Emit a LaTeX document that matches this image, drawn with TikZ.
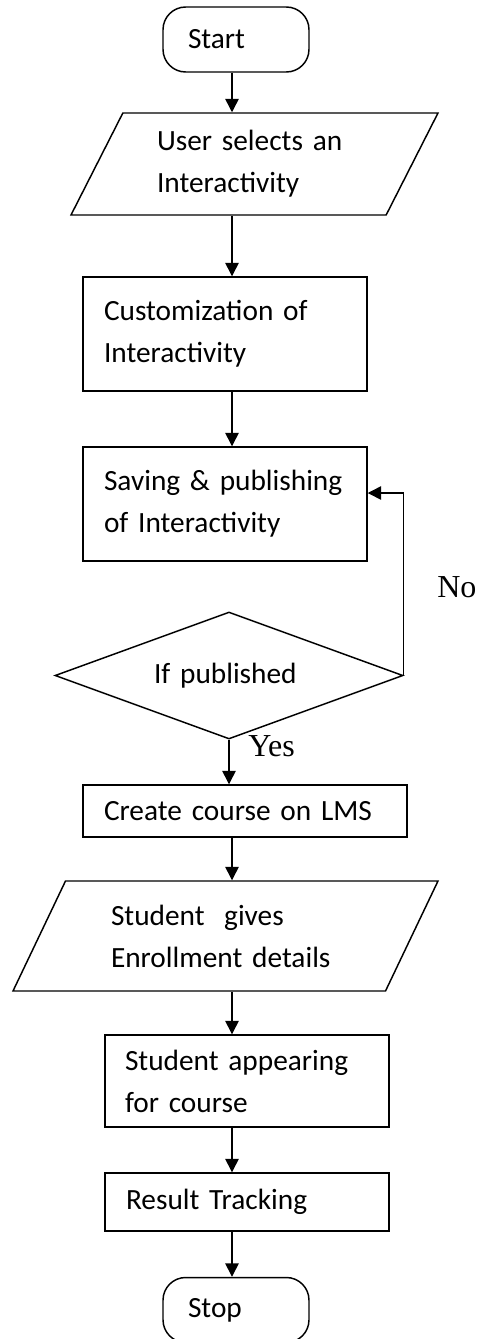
\documentclass[tikz,border=0pt]{standalone}
\usepackage{fontspec}
\setmainfont{Carlito}
\newfontfamily\labelfont{Liberation Serif}
\usetikzlibrary{shapes.geometric, arrows.meta}

\tikzset{
    flowline/.style={line width=1.1pt},
    arr/.style={flowline, -{Triangle[width=10pt, length=10pt]}},
    boxfont/.style={font=\fontsize{22}{31.5}\selectfont},
    terminal/.style={draw, flowline, boxfont, rectangle, rounded corners=17pt, minimum width=109.5pt, minimum height=48.75pt, text width=72pt, inner xsep=18.75pt, align=left},
    process/.style={draw, flowline, boxfont, rectangle, minimum width=213pt, text width=181.5pt, inner xsep=15.75pt, align=left},
    inout/.style={draw, flowline, boxfont, trapezium, trapezium stretches body, inner sep=2pt, align=left},
    decision/.style={draw, flowline, boxfont, diamond, aspect=2.74, inner sep=0pt, minimum width=261pt, minimum height=95.25pt, text width=112.5pt, align=left},
    answer/.style={font=\labelfont\fontsize{24}{28}\selectfont, anchor=base west, inner sep=0pt}
}

\begin{document}
\begin{tikzpicture}[x=0.75pt, y=-0.75pt]
        \useasboundingbox (0,0) rectangle (481,1339);

        % Draw nodes
        \node[terminal] (start) at (236,39.5) {Start};
        \node[inout, trapezium left angle=54.4, trapezium right angle=125.6, minimum width=275.25pt, minimum height=76.5pt, text width=146.25pt] (select) at (254.5,164) {User selects an\\Interactivity};
        \node[process, minimum height=85.5pt] (custom) at (225,334) {Customization of\\Interactivity};
        \node[process, minimum height=85.5pt] (saving) at (225,504) {Saving \& publishing\\of Interactivity};
        \node[decision] (published) at (229,675.5) {If published};
        \node[process, minimum width=243pt, text width=211.5pt, minimum height=39pt] (course) at (245,811) {Create course on LMS};
        \node[inout, trapezium left angle=52.3, trapezium right angle=127.7, minimum width=318.75pt, minimum height=82.5pt, text width=171.75pt] (enrol) at (225.5,936) {Student\ \ gives\\Enrollment details};
        \node[process, text width=183pt, inner xsep=15pt, minimum height=69pt] (appear) at (247,1081) {Student appearing\\for course};
        \node[process, minimum height=43.5pt] (result) at (247,1202) {Result Tracking};
        \node[terminal] (stop) at (236,1310) {Stop};
        \coordinate (axis) at (232,0);

        % Draw connections
        \draw[arr] (start.south -| axis) -- (select.north -| axis);
        \draw[arr] (select.south -| axis) -- (custom.north -| axis);
        \draw[arr] (custom.south -| axis) -- (saving.north -| axis);
        \draw[arr] (published.east) |- ([yshift=8.25pt]saving.east);
        \draw[arr] (published.south) -- (course.north -| published.south);
        \draw[arr] (course.south -| axis) -- (enrol.north -| axis);
        \draw[arr] (enrol.south -| axis) -- (appear.north -| axis);
        \draw[arr] (appear.south -| axis) -- (result.north -| axis);
        \draw[arr] (result.south -| axis) -- (stop.north -| axis);

        % Labels
        \node[answer] (no) at (437,597) {No};
        \node[answer] (yes) at (248,756) {Yes};
    \end{tikzpicture}
\end{document}
